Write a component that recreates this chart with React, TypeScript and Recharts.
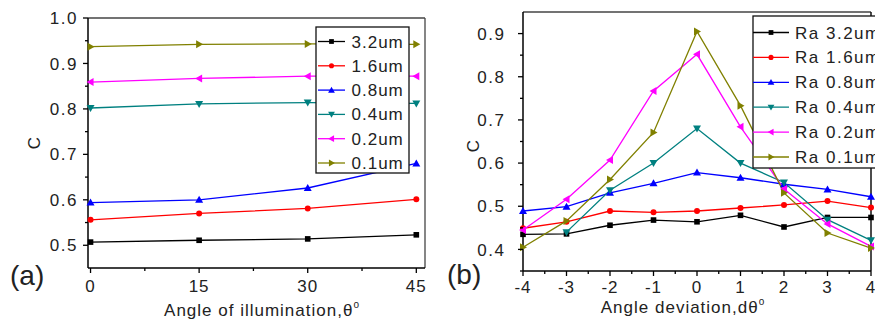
import { LineChart, Line, XAxis, YAxis, ReferenceLine } from "recharts";

// panel (a): contrast vs angle of illumination
const anglesA = [0, 15, 30, 45];
const a32 = [0.507, 0.511, 0.514, 0.523];
const a16 = [0.556, 0.57, 0.581, 0.601];
const a08 = [0.594, 0.6, 0.626, 0.68];
const a04 = [0.802, 0.811, 0.814, 0.812];
const a02 = [0.859, 0.867, 0.872, 0.872];
const a01 = [0.937, 0.942, 0.943, 0.942];
const namesA = ["3.2um", "1.6um", "0.8um", "0.4um", "0.2um", "0.1um"];

// panel (b): contrast vs angle deviation
const devB = [-4, -3, -2, -1, 0, 1, 2, 3, 4];
const b32 = [0.435, 0.436, 0.456, 0.468, 0.464, 0.479, 0.452, 0.474, 0.474];
const b16 = [0.449, 0.464, 0.489, 0.486, 0.489, 0.496, 0.503, 0.512, 0.497];
const b08 = [0.489, 0.499, 0.531, 0.553, 0.578, 0.566, 0.551, 0.539, 0.522];
const b04 = [null, 0.44, 0.537, 0.6, 0.68, 0.6, 0.555, 0.469, 0.421];
const b02 = [0.445, 0.516, 0.607, 0.767, 0.852, 0.684, 0.54, 0.459, 0.407];
const b01 = [0.405, 0.466, 0.562, 0.671, 0.905, 0.733, 0.531, 0.438, 0.403];
const namesB = ["Ra 3.2um", "Ra 1.6um", "Ra 0.8um", "Ra 0.4um", "Ra 0.2um", "Ra 0.1um"];

const xTicksA = [0, 7.5, 15, 22.5, 30, 37.5, 45];
const xMajorA = [0, 15, 30, 45];
const yTicksA = [0.5, 0.55, 0.6, 0.65, 0.7, 0.75, 0.8, 0.85, 0.9, 0.95, 1.0];
const yLabelsA = ["0.5", "0.6", "0.7", "0.8", "0.9", "1.0"];
const xTicksB = [-4, -3.5, -3, -2.5, -2, -1.5, -1, -0.5, 0, 0.5, 1, 1.5, 2, 2.5, 3, 3.5, 4];
const xMajorB = [-4, -3, -2, -1, 0, 1, 2, 3, 4];
const yTicksB = [0.35, 0.4, 0.45, 0.5, 0.55, 0.6, 0.65, 0.7, 0.75, 0.8, 0.85, 0.9];
const yLabelsB = ["0.4", "0.5", "0.6", "0.7", "0.8", "0.9"];

const colors = ["#000000", "#ff0000", "#0000ff", "#008080", "#ff00ff", "#808000"];
const shapes = ["square", "circle", "up", "down", "left", "right"];
const keys = ["s32", "s16", "s08", "s04", "s02", "s01"];

const dataA = anglesA.map((x, i) => ({
  x, s32: a32[i], s16: a16[i], s08: a08[i], s04: a04[i], s02: a02[i], s01: a01[i],
}));
const dataB = devB.map((x, i) => ({
  x, s32: b32[i], s16: b16[i], s08: b08[i], s04: b04[i], s02: b02[i], s01: b01[i],
}));

const FONT = "'Liberation Sans', Arial, sans-serif";
const TXT = "#222";

function Marker({ cx, cy, shape, color, s = 1 }: any) {
  if (cx == null || cy == null || isNaN(cx) || isNaN(cy)) return null;
  const r = 4 * s;
  switch (shape) {
    case "square":
      return <rect x={cx - 2.8 * s} y={cy - 2.8 * s} width={5.6 * s} height={5.6 * s} fill={color} />;
    case "circle":
      return <circle cx={cx} cy={cy} r={3 * s} fill={color} />;
    case "up":
      return <polygon points={`${cx},${cy - r} ${cx - r},${cy + r * 0.75} ${cx + r},${cy + r * 0.75}`} fill={color} />;
    case "down":
      return <polygon points={`${cx},${cy + r} ${cx - r},${cy - r * 0.75} ${cx + r},${cy - r * 0.75}`} fill={color} />;
    case "left":
      return <polygon points={`${cx - r},${cy} ${cx + r * 0.75},${cy - r} ${cx + r * 0.75},${cy + r}`} fill={color} />;
    default:
      return <polygon points={`${cx + r},${cy} ${cx - r * 0.75},${cy - r} ${cx - r * 0.75},${cy + r}`} fill={color} />;
  }
}

const near = (a: number, list: number[]) => list.some((m) => Math.abs(m - a) < 1e-6);

function makeXTick(majors: number[], dy: number) {
  return (props: any) => {
    const { x, y, payload } = props;
    const major = near(payload.value, majors);
    return (
      <g>
        <line x1={x} x2={x} y1={y} y2={y + (major ? 5 : 3)} stroke="#000" strokeWidth={1.3} />
        {major && (
          <text x={x} y={y + dy} textAnchor="middle" fontSize={17} letterSpacing={1} fill={TXT} fontFamily={FONT}>
            {payload.value}
          </text>
        )}
      </g>
    );
  };
}

function makeYTick(labels: string[], gap: number) {
  return (props: any) => {
    const { x, y, payload } = props;
    const lbl = payload.value.toFixed(1);
    const major = labels.includes(lbl) && Math.abs(payload.value - parseFloat(lbl)) < 1e-6;
    return (
      <g>
        <line x1={x} x2={x - (major ? 5 : 3)} y1={y} y2={y} stroke="#000" strokeWidth={1.3} />
        {major && (
          <text x={x - gap} y={y} dy="0.36em" textAnchor="end" fontSize={17} letterSpacing={1.5} fill={TXT} fontFamily={FONT}>
            {lbl}
          </text>
        )}
      </g>
    );
  };
}

function Legend({ x, y, w, h, rowY, step, lineX1, lineX2, textX, names, spacing }: any) {
  return (
    <g>
      <rect x={x} y={y} width={w} height={h} fill="#fff" stroke="#111" strokeWidth={1.3} />
      {names.map((n: string, i: number) => {
        const ry = rowY + i * step;
        return (
          <g key={n}>
            <line x1={lineX1} x2={lineX2} y1={ry} y2={ry} stroke={colors[i]} strokeWidth={1.3} />
            <Marker cx={(lineX1 + lineX2) / 2} cy={ry} shape={shapes[i]} color={colors[i]} s={0.85} />
            <text x={textX} y={ry + 6} fontSize={17} letterSpacing={spacing} fill={TXT} fontFamily={FONT}>
              {n}
            </text>
          </g>
        );
      })}
    </g>
  );
}

export default function App() {
  const lines = (prefix: string) =>
    keys.map((k, i) => (
      <Line
        key={prefix + k}
        dataKey={k}
        stroke={colors[i]}
        strokeWidth={1.3}
        isAnimationActive={false}
        connectNulls={false}
        dot={(p: any) => <Marker key={prefix + k + p.index} cx={p.cx} cy={p.cy} shape={shapes[i]} color={colors[i]} />}
        activeDot={false}
      />
    ));

  return (
    <div style={{ position: "absolute", left: 0, top: 0, width: 875, height: 323, overflow: "hidden", background: "#fff" }}>
      <div style={{ position: "absolute", left: 0, top: 0 }}>
        <LineChart width={440} height={323} data={dataA} margin={{ top: 18, right: 15, bottom: 0, left: 0 }}>
          <XAxis
            dataKey="x"
            type="number"
            domain={[-0.35, 46.2]}
            ticks={xTicksA}
            interval={0}
            height={55}
            tickSize={0}
            tickMargin={0}
            tickLine={false}
            axisLine={{ stroke: "#000", strokeWidth: 1.5 }}
            tick={makeXTick(xMajorA, 24)}
          />
          <YAxis
            type="number"
            domain={[0.45, 1.0]}
            ticks={yTicksA}
            interval={0}
            width={88}
            tickSize={0}
            tickMargin={0}
            tickLine={false}
            axisLine={{ stroke: "#000", strokeWidth: 1.5 }}
            tick={makeYTick(yLabelsA, 10)}
          />
          <ReferenceLine y={1.0} stroke="#444" strokeWidth={1.3} />
          <ReferenceLine x={46.2} stroke="#444" strokeWidth={1.3} />
          {lines("a")}
        </LineChart>
      </div>
      <div style={{ position: "absolute", left: 440, top: 0 }}>
        <LineChart width={435} height={323} data={dataB} margin={{ top: 12, right: 4, bottom: 0, left: 0 }}>
          <XAxis
            dataKey="x"
            type="number"
            domain={[-4, 4]}
            ticks={xTicksB}
            interval={0}
            height={52}
            tickSize={0}
            tickMargin={0}
            tickLine={false}
            axisLine={{ stroke: "#000", strokeWidth: 1.5 }}
            tick={makeXTick(xMajorB, 21.5)}
          />
          <YAxis
            type="number"
            domain={[0.35, 0.95]}
            ticks={yTicksB}
            interval={0}
            width={83}
            tickSize={0}
            tickMargin={0}
            tickLine={false}
            axisLine={{ stroke: "#000", strokeWidth: 1.5 }}
            tick={makeYTick(yLabelsB, 17.5)}
          />
          <ReferenceLine y={0.95} stroke="#444" strokeWidth={1.3} />
          <ReferenceLine x={4} stroke="#111" strokeWidth={1.5} />
          {lines("b")}
        </LineChart>
      </div>
      <svg width={875} height={323} style={{ position: "absolute", left: 0, top: 0, pointerEvents: "none" }}>
        <Legend x={316} y={27} w={93} h={146} rowY={41.5} step={24.3} lineX1={318} lineX2={345} textX={351.5} names={namesA} spacing={1} />
        <Legend x={753} y={16} w={200} h={152} rowY={32.5} step={24.9} lineX1={753} lineX2={789} textX={795} names={namesB} spacing={1.5} />
        <text x={40} y={143} transform="rotate(-90 40 143)" textAnchor="middle" fontSize={17} fill={TXT} fontFamily={FONT}>C</text>
        <text x={479} y={146} transform="rotate(-90 479 146)" textAnchor="middle" fontSize={17} fill={TXT} fontFamily={FONT}>C</text>
        <text x={262} y={316} textAnchor="middle" fontSize={17} letterSpacing={1} fill={TXT} fontFamily={FONT}>
          Angle of illumination,θ<tspan dy={-8} fontSize={10}>o</tspan>
        </text>
        <text x={683} y={313} textAnchor="middle" fontSize={17} letterSpacing={1} fill={TXT} fontFamily={FONT}>
          Angle deviation,dθ<tspan dy={-8} fontSize={10}>o</tspan>
        </text>
        <text x={10} y={285} fontSize={28} fill={TXT} fontFamily={FONT}>(a)</text>
        <text x={447} y={284} fontSize={28} fill={TXT} fontFamily={FONT}>(b)</text>
      </svg>
    </div>
  );
}
